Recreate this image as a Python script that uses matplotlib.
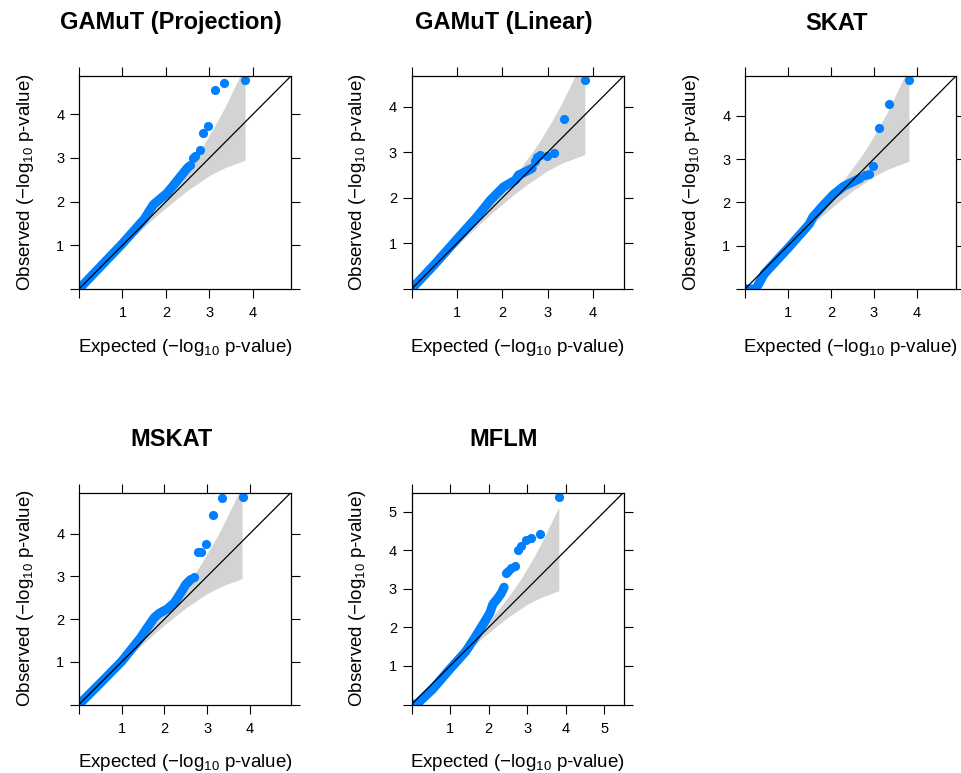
import matplotlib
matplotlib.use("Agg")
import matplotlib.pyplot as plt
import numpy as np


plt.rcParams["font.family"] = ["Liberation Sans", "DejaVu Sans"]
plt.rcParams["mathtext.fontset"] = "custom"
plt.rcParams["mathtext.rm"] = "Liberation Sans"
plt.rcParams["mathtext.default"] = "regular"


TITLES = ["GAMuT (Projection)", "GAMuT (Linear)", "SKAT", "MSKAT", "MFLM"]

# dense part of each QQ trace, read as (expected, observed)
proj_bulk_x = [0.0, 0.5, 1.0, 1.5, 1.71, 2.02, 2.21, 2.33, 2.51]
proj_bulk_y = [0.0, 0.52, 1.04, 1.6, 1.93, 2.19, 2.42, 2.57, 2.79]
proj_tail_x = [2.56, 2.63, 2.67, 2.78, 2.85, 2.97, 3.12, 3.34, 3.82]
proj_tail_y = [2.84, 3.0, 3.05, 3.18, 3.57, 3.74, 4.56, 4.71, 4.78]

lin_bulk_x = [0.0, 0.5, 1.0, 1.44, 1.74, 2.03, 2.29, 2.36, 2.51, 2.66]
lin_bulk_y = [0.0, 0.53, 1.09, 1.58, 1.95, 2.24, 2.39, 2.5, 2.57, 2.65]
lin_tail_x = [2.72, 2.77, 2.84, 2.99, 3.13, 3.36, 3.83]
lin_tail_y = [2.81, 2.89, 2.93, 2.92, 2.98, 3.73, 4.58]

skat_bulk_x = [0.0, 0.25, 0.45, 1.0, 1.5, 1.58, 1.83, 2.06, 2.3, 2.53, 2.69]
skat_bulk_y = [0.0, 0.0, 0.35, 0.94, 1.5, 1.66, 1.94, 2.18, 2.37, 2.48, 2.56]
skat_tail_x = [2.8, 2.88, 2.98, 3.13, 3.35, 3.82]
skat_tail_y = [2.62, 2.66, 2.83, 3.71, 4.28, 4.82]

mskat_bulk_x = [0.0, 0.5, 1.0, 1.44, 1.6, 1.76, 1.87, 2.07, 2.23, 2.31, 2.43, 2.5, 2.62]
mskat_bulk_y = [0.0, 0.5, 1.01, 1.56, 1.8, 2.03, 2.13, 2.24, 2.38, 2.5, 2.69, 2.81, 2.93]
mskat_tail_x = [2.7, 2.78, 2.86, 2.98, 3.13, 3.35, 3.84]
mskat_tail_y = [2.98, 3.57, 3.57, 3.76, 4.43, 4.83, 4.87]

mflm_bulk_x = [0.0, 0.15, 0.55, 0.98, 1.41, 1.64, 1.85, 2.03, 2.11, 2.24, 2.33, 2.4]
mflm_bulk_y = [0.0, 0.02, 0.4, 0.9, 1.38, 1.73, 2.07, 2.37, 2.6, 2.76, 2.89, 3.04]
mflm_tail_x = [2.44, 2.5, 2.59, 2.68, 2.77, 2.85, 2.98, 3.11, 3.33, 3.83]
mflm_tail_y = [3.41, 3.45, 3.54, 3.58, 4.0, 4.1, 4.27, 4.32, 4.42, 5.39]

# grey 95% band, same in every panel
band_x = [0.52, 0.82, 1.22, 1.52, 1.82, 2.05, 2.23, 2.36, 2.54, 2.71, 2.87, 2.97, 3.12, 3.34, 3.82]
band_hi = [0.54, 0.86, 1.28, 1.61, 1.95, 2.21, 2.43, 2.6, 2.84, 3.07, 3.31, 3.48, 3.73, 4.13, 5.12]
band_lo = [0.5, 0.79, 1.16, 1.44, 1.71, 1.9, 2.05, 2.15, 2.29, 2.4, 2.51, 2.58, 2.66, 2.77, 2.95]

SERIES = [
    (proj_bulk_x, proj_bulk_y, proj_tail_x, proj_tail_y),
    (lin_bulk_x, lin_bulk_y, lin_tail_x, lin_tail_y),
    (skat_bulk_x, skat_bulk_y, skat_tail_x, skat_tail_y),
    (mskat_bulk_x, mskat_bulk_y, mskat_tail_x, mskat_tail_y),
    (mflm_bulk_x, mflm_bulk_y, mflm_tail_x, mflm_tail_y),
]

# panel boxes in pixels: left, top, right, bottom
BOXES = [
    (79, 76, 291, 289),
    (411.5, 76, 623.5, 289),
    (745, 76, 956, 289),
    (79, 492.5, 291, 704.5),
    (411.5, 492.5, 623.5, 704.5),
]

W, H = 961, 773
BLUE = "#0080ff"
DOT = 6.6


def main():

    fig = plt.figure(figsize=(W / 100, H / 100), dpi=100)

    for title, (bx, by, tx, ty), (l, t, r, b) in zip(TITLES, SERIES, BOXES):

        ax = fig.add_axes([l / W, 1 - b / H, (r - l) / W, (b - t) / H])

        lim = max(ty) * 1.02

        ax.fill_between(band_x, band_lo, band_hi, color="#d3d3d3", lw=0, zorder=1)

        ax.plot(bx, by, color=BLUE, lw=DOT, solid_capstyle="round",
                solid_joinstyle="round", zorder=2)
        ax.plot(tx, ty, "o", color=BLUE, ms=DOT, mew=0, zorder=2)

        ax.axline((0, 0), slope=1, color="black", lw=0.9, zorder=3)

        ax.set_xlim(0, lim)
        ax.set_ylim(0, lim)

        ticks = np.arange(0, int(lim) + 1)
        labels = ["" if v == 0 else str(v) for v in ticks]
        ax.set_xticks(ticks, labels)
        ax.set_yticks(ticks, labels)

        ax.tick_params(direction="out", length=6.5, width=0.8, top=True,
                       right=True, labelsize=10.5, colors="black")
        ax.tick_params(axis="x", pad=6)
        ax.tick_params(axis="y", pad=4)

        for s in ax.spines.values():
            s.set_linewidth(0.9)

        ax.text(0.5, -58 / (b - t), "Expected (\u2212log$_{10}$ p-value)",
                transform=ax.transAxes, ha="center", va="center", fontsize=13.5)
        ax.text(-54 / (r - l), 0.5, "Observed (\u2212log$_{10}$ p-value)",
                transform=ax.transAxes, ha="center", va="center",
                rotation=90, fontsize=13.5)

        fig.text(((l + r) / 2 - 14) / W, 1 - (t - 53) / H, title,
                 ha="center", va="center", fontsize=17, fontweight="bold")

    fig.savefig("out.png", dpi=100)
    plt.close(fig)


if __name__ == "__main__":
    main()
